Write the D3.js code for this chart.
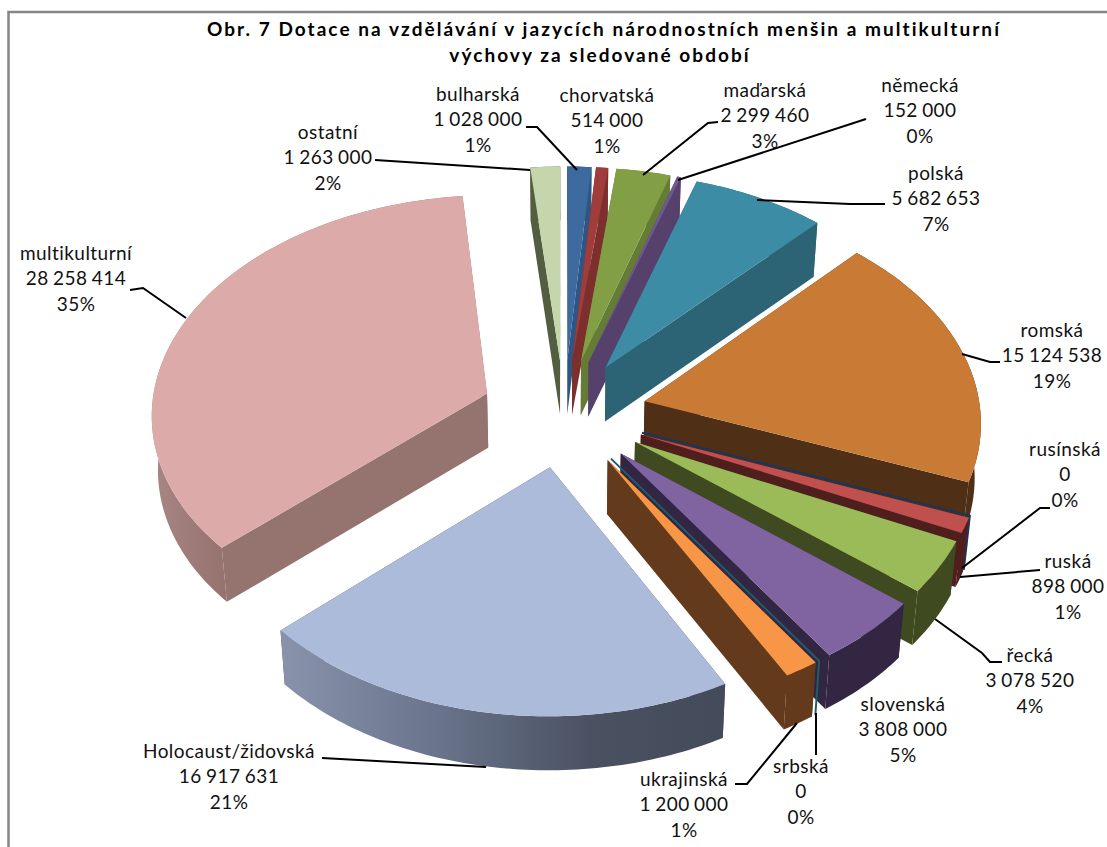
<!DOCTYPE html>
<html><head><meta charset="utf-8">
<script src="https://cdn.jsdelivr.net/npm/d3@7"></script>
<style>html,body{margin:0;padding:0;background:#fff;overflow:hidden}svg{display:block}text{font-family:Lato,sans-serif}</style>
</head><body><svg id="c" width="1107" height="847"></svg>
<script>
// ---- data ----
const categories = ["bulharská","chorvatská","maďarská","německá","polská","romská","rusínská","ruská","řecká","slovenská","srbská","ukrajinská","Holocaust/židovská","multikulturní","ostatní"];
const values = [1028000,514000,2299460,152000,5682653,15124538,0,898000,3078520,3808000,0,1200000,16917631,28258414,1263000];
const valueLabels = ["1 028 000","514 000","2 299 460","152 000","5 682 653","15 124 538","0","898 000","3 078 520","3 808 000","0","1 200 000","16 917 631","28 258 414","1 263 000"];
const percentLabels = ["1%","1%","3%","0%","7%","19%","0%","1%","4%","5%","0%","1%","21%","35%","2%"];
const titleLines = ["Obr. 7 Dotace na vzdělávání v jazycích národnostních menšin a multikulturní","výchovy za sledované období"];

// ---- styles ----
const topColors  = ["#3d6a9f","#a03d3a","#829f45","#6f5791","#3d8ca6","#c97a35","#17375e","#c0504d","#9bbb59","#8064a2","#1f5c68","#f79646","#adbbdb","#dcaba9","#c6d6ac"];
const wallColors = ["#2f5583","#7d2f2d","#657c36","#56406c","#2c6475","#4f2f16","#17375e","#4f1f1e","#404a20","#322642","#1f5c68","#633a1c","#454d5e","#95736f","#535e40"];

// ---- layout ----
const cx=564, cy=413, R=336, EXPLODE=83, TILT=0.65, PERSP=4000, WALL=54, NARROW=0.985;
const labelCenters = [[478,95],[607,96],[765,91],[920,86],[936,174],[1052,331],[1065,450],[1068,562],[1030,656],[903,705],[801,767],[684,780],[229,752],[76,254],[328,133]];
const leaders = [
 [[526,127],[537,127],[577,170]],
 null,
 [[718,122],[708,123],[643,175]],
 [[866,119],[678,180]],
 [[885,204],[850,204],[757,200]],
 [[1000,362],[990,362],[962,354]],
 [[1050,508],[1040,508],[962,568]],
 [[1040,570],[960,577]],
 [[1002,662],[990,662],[982,653],[935,619]],
 null,
 [[816,713],[816,755]],
 [[735,784],[747,784],[797,723]],
 [[322,758],[486,767]],
 [[130,290],[143,288],[186,318]],
 [[375,160],[530,170]]
];

const svg = d3.select("#c");
const defs = svg.append("defs");
function grad(id,x1,x2,stops){
  const g=defs.append("linearGradient").attr("id",id).attr("gradientUnits","userSpaceOnUse").attr("x1",x1).attr("x2",x2).attr("y1",0).attr("y2",0);
  stops.forEach(s=>g.append("stop").attr("offset",s[0]).attr("stop-color",s[1]));
}
grad("holRim",275,725,[[0,"#8a95ad"],[.3,"#6f7a92"],[.7,"#4a5262"],[1,"#434b5b"]]);
grad("mulRim",133,222,[[0,"#ad8b89"],[1,"#96736f"]]);

// frame
svg.append("rect").attr("x",8.5).attr("y",12).attr("width",1200).attr("height",1000).attr("fill","#fff").attr("stroke","#868686").attr("stroke-width",2.5);

const project = ([X,Y],bottom=false)=>{
  const w=1+Y/PERSP; let x=cx+X/w, y=cy-Y*TILT/w;
  if(bottom){x=cx+(x-cx)*NARROW; y+=WALL;}
  return [x,y];
};
const line = d3.line();
const arcs = d3.pie().sort(null).value(d=>d)(values).map((a,i)=>{
  const m=(a.startAngle+a.endAngle)/2;
  const shift=[EXPLODE*Math.sin(m),EXPLODE*Math.cos(m)];
  return {i,a,shift};
});
const rimPts=(s,t0,t1)=>{
  const n=Math.max(1,Math.ceil((t1-t0)/(Math.PI/180)));
  return d3.range(n+1).map(k=>{const t=t0+(t1-t0)*k/n;return [s[0]+R*Math.sin(t),s[1]+R*Math.cos(t)];});
};
const order=arcs.slice().sort((p,q)=>q.shift[1]-p.shift[1]);
const pieG=svg.append("g");
order.forEach(d=>{
  const {i,a,shift}=d, g=pieG.append("g").attr("data-category",categories[i]);
  const t0=a.startAngle,t1=a.endAngle,rim=rimPts(shift,t0,t1);
  const A=project(shift),Ab=project(shift,true);
  if(values[i]===0){
    const P=project(rim[0]),Pb=project(rim[0],true);
    g.append("path").attr("d",line([A,P,Pb])).attr("fill","none").attr("stroke",topColors[i]).attr("stroke-width",2);
    return;
  }
  const P0=project(rim[0]),P0b=project(rim[0],true),P1=project(rim[rim.length-1]),P1b=project(rim[rim.length-1],true);
  g.append("path").attr("d",line([A,P0,P0b,Ab])+"Z").attr("fill",wallColors[i]);
  g.append("path").attr("d",line([A,P1,P1b,Ab])+"Z").attr("fill",wallColors[i]);
  const rimFill = categories[i].startsWith("Holocaust")?"url(#holRim)":categories[i]==="multikulturní"?"url(#mulRim)":wallColors[i];
  g.append("path").attr("d",line(rim.map(p=>project(p)).concat(rim.slice().reverse().map(p=>project(p,true))))+"Z").attr("fill",rimFill);
  g.append("path").attr("d",line([A].concat(rim.map(p=>project(p))))+"Z").attr("fill",topColors[i]);
});

// leaders
svg.append("g").selectAll("path").data(leaders.filter(Boolean)).join("path")
  .attr("d",d=>line(d)).attr("fill","none").attr("stroke","#000").attr("stroke-width",2);

// labels
const lab=svg.append("g").attr("font-size",19).attr("letter-spacing",0.45).attr("word-spacing",-1).attr("fill","#111").attr("text-anchor","middle");
categories.forEach((c,i)=>{
  const [x,y]=labelCenters[i];
  [c,valueLabels[i],percentLabels[i]].forEach((t,k)=>{
    lab.append("text").attr("x",x).attr("y",y+k*25.3+6).text(t);
  });
});
// title
svg.append("g").attr("font-size",19).attr("letter-spacing",2.05).attr("font-weight",700).attr("fill","#000").attr("text-anchor","middle")
  .selectAll("text").data(titleLines).join("text").attr("x",(d,i)=>i?600:604).attr("y",(d,i)=>36+i*26).text(d=>d);
</script></body></html>
